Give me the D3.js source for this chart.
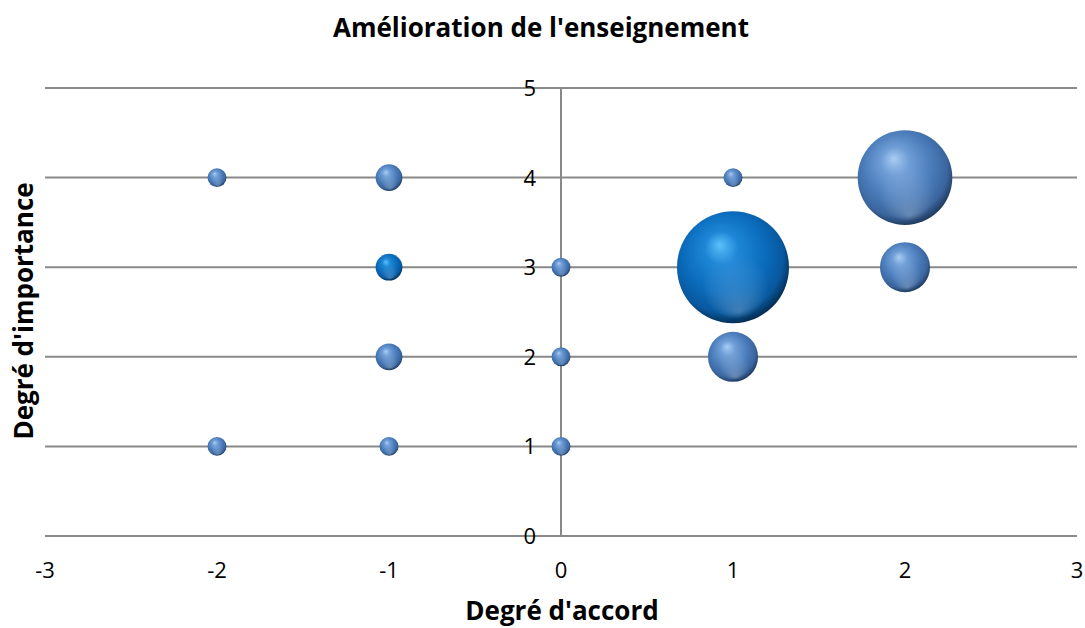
<!DOCTYPE html>
<html>
<head>
<meta charset="utf-8">
<script src="https://cdn.jsdelivr.net/npm/d3@7"></script>
<style>
  html, body { margin: 0; padding: 0; background: #ffffff; }
  svg { display: block; }
  text { font-family: "Open Sans", Lato, sans-serif; fill: #000; }
</style>
</head>
<body>
<div id="chart"></div>
<script>
// Survey responses: agreement (x), importance (y), number of answers (bubble size)
const agreement  = [-2, -1,  1,  2, -1,  0,  1,  2, -1,  0,  1, -2, -1,  0];
const importance = [ 4,  4,  4,  4,  3,  3,  3,  3,  2,  2,  2,  1,  1,  1];
const counts     = [ 1,  2,  1, 25,  2,  1, 35,  7,  2,  1,  7,  1,  1,  1];
// Points drawn in the accent colour
const accent     = [ 0,  0,  0,  0,  1,  0,  1,  0,  0,  0,  0,  0,  0,  0];

const xTicks = [-3, -2, -1, 0, 1, 2, 3];
const yTicks = [0, 1, 2, 3, 4, 5];

const title  = "Amélioration de l'enseignement";
const xTitle = "Degré d'accord";
const yTitle = "Degré d'importance";

const W = 1085, H = 628;
const plot = { left: 45, right: 1077, top: 88, bottom: 536 };

const svg = d3.select("#chart").append("svg")
  .attr("width", W).attr("height", H);

const x = d3.scaleLinear().domain([-3, 3]).range([plot.left, plot.right]);
const y = d3.scaleLinear().domain([0, 5]).range([plot.bottom, plot.top]);
// Bubble area proportional to count; the largest bubble spans 25% of the plot height
const r = d3.scaleSqrt().domain([0, d3.max(counts)])
  .range([0, (plot.bottom - plot.top) * 0.25 / 2]);

// Sphere shading gradients
const defs = svg.append("defs");
function sphere(id, stops) {
  const g = defs.append("radialGradient").attr("id", id)
    .attr("cx", "0.45").attr("cy", "0.42").attr("r", "0.6")
    .attr("fx", "0.38").attr("fy", "0.3");
  stops.forEach(([o, c]) => g.append("stop").attr("offset", o).attr("stop-color", c));
}
sphere("ball-steel", [["0%", "#a9cdf3"], ["25%", "#6f9dd6"], ["60%", "#4a7cba"], ["85%", "#3a659d"], ["100%", "#1d3658"]]);
sphere("ball-accent", [["0%", "#5cc0fa"], ["25%", "#1e86d6"], ["60%", "#0b6cbd"], ["85%", "#08589e"], ["100%", "#03294b"]]);
// Soft bounce light near the lower rim
const rim = defs.append("radialGradient").attr("id", "rim")
  .attr("cx", "0.5").attr("cy", "0.5").attr("r", "0.5")
  .attr("fx", "0.55").attr("fy", "0.9");
rim.append("stop").attr("offset", "0%").attr("stop-color", "#ffffff").attr("stop-opacity", 0.22);
rim.append("stop").attr("offset", "60%").attr("stop-color", "#ffffff").attr("stop-opacity", 0.0);

// Horizontal gridlines
svg.append("g").selectAll("line").data(yTicks).join("line")
  .attr("x1", plot.left).attr("x2", plot.right)
  .attr("y1", d => y(d)).attr("y2", d => y(d))
  .attr("stroke", "#898989").attr("stroke-width", 2);

// Vertical axis at x = 0
svg.append("line")
  .attr("x1", x(0)).attr("x2", x(0))
  .attr("y1", y(5)).attr("y2", y(0))
  .attr("stroke", "#898989").attr("stroke-width", 2);

// Y tick labels next to the vertical axis
svg.append("g").selectAll("text").data(yTicks).join("text")
  .attr("x", x(0) - 25).attr("y", d => y(d) + 8)
  .attr("text-anchor", "end")
  .style("font-size", "22px").text(d => d);

// X tick labels
svg.append("g").selectAll("text").data(xTicks).join("text")
  .attr("x", d => x(d)).attr("y", 578)
  .attr("text-anchor", "middle")
  .style("font-size", "22px").text(d => d);

// Bubbles, largest first so smaller ones sit on top
const idx = d3.range(counts.length).sort((a, b) => counts[b] - counts[a]);
const bubbles = svg.append("g").selectAll("g").data(idx).join("g")
  .attr("transform", i => `translate(${x(agreement[i])},${y(importance[i])})`);
bubbles.append("circle")
  .attr("r", i => r(counts[i]))
  .attr("fill", i => accent[i] ? "url(#ball-accent)" : "url(#ball-steel)");
bubbles.append("circle")
  .attr("r", i => r(counts[i]))
  .attr("fill", "url(#rim)");

// Titles
svg.append("text").attr("x", 541).attr("y", 37)
  .attr("text-anchor", "middle")
  .style("font-size", "26px").style("font-weight", "bold").text(title);

svg.append("text").attr("x", 562).attr("y", 620)
  .attr("text-anchor", "middle")
  .style("font-size", "26px").style("font-weight", "bold").text(xTitle);

svg.append("text")
  .attr("transform", "translate(33,311) rotate(-90)")
  .attr("text-anchor", "middle")
  .style("font-size", "26px").style("font-weight", "bold").text(yTitle);
</script>
</body>
</html>
